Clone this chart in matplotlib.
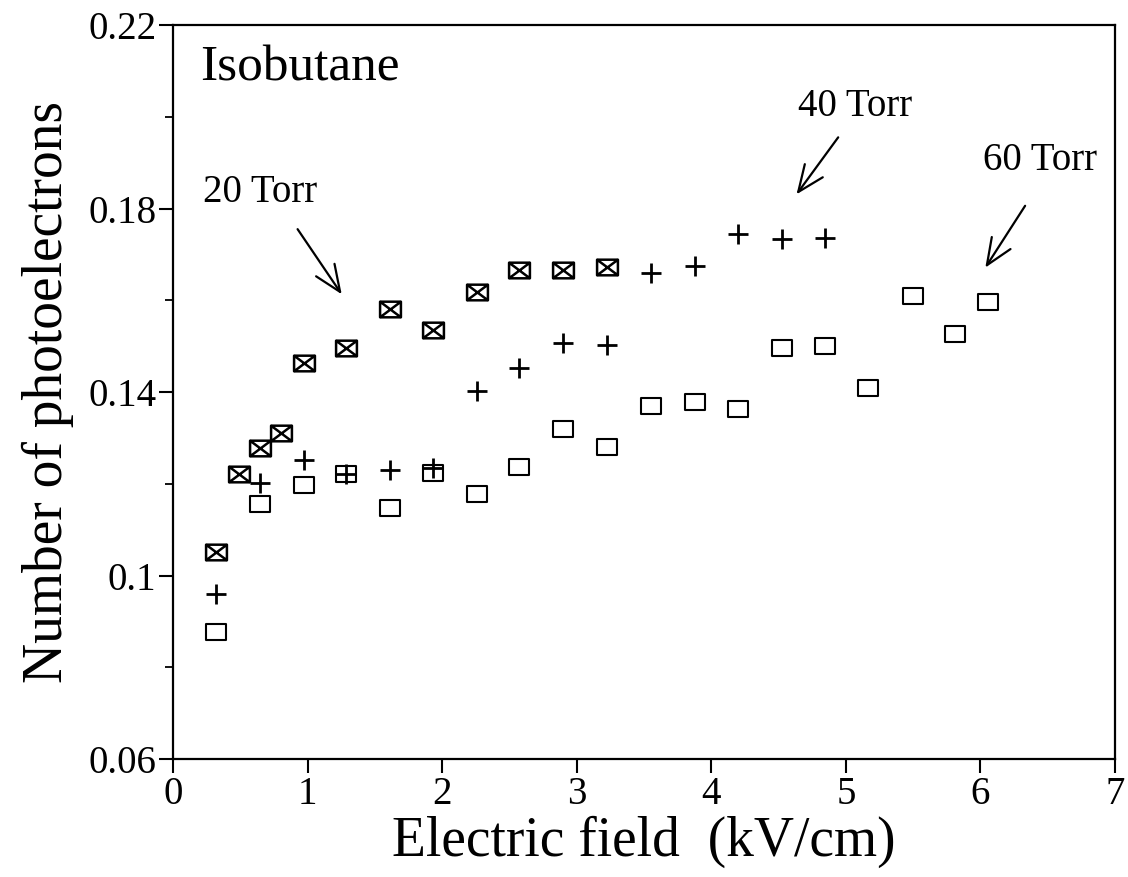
import numpy as np
import matplotlib
matplotlib.use("Agg")
import matplotlib.pyplot as plt
from matplotlib.path import Path
from matplotlib.ticker import MultipleLocator

plt.rcParams['font.family'] = ['Liberation Serif', 'DejaVu Serif']

# 20 Torr (crossed boxes)
x20 = [0.319, 0.49, 0.646, 0.80, 0.973, 1.283, 1.61, 1.93, 2.256, 2.57, 2.897, 3.228]
y20 = [0.1052, 0.1221, 0.1277, 0.1311, 0.1463, 0.1497, 0.1581, 0.1535, 0.1618, 0.1667, 0.1666, 0.1673]

# 40 Torr (plus)
x40 = [0.319, 0.646, 0.973, 1.283, 1.61, 1.93, 2.256, 2.57, 2.897, 3.228, 3.549, 3.878, 4.20, 4.527, 4.844]
y40 = [0.0959, 0.1201, 0.1252, 0.1221, 0.1230, 0.1234, 0.1403, 0.1452, 0.1506, 0.1502,
       0.1660, 0.1675, 0.1744, 0.1733, 0.1735]

# 60 Torr (open boxes)
x60 = [0.319, 0.646, 0.973, 1.283, 1.61, 1.93, 2.256, 2.57, 2.897, 3.228, 3.549, 3.878,
       4.20, 4.527, 4.844, 5.166, 5.50, 5.81, 6.057]
y60 = [0.0877, 0.1155, 0.1197, 0.1221, 0.1148, 0.1223, 0.1178, 0.1237, 0.1319, 0.1281,
       0.1370, 0.1379, 0.1364, 0.1495, 0.1501, 0.1408, 0.1609, 0.1526, 0.1596]

# marker shapes: flat rectangle, and rectangle with diagonals
box = Path([(-1, -0.75), (1, -0.75), (1, 0.75), (-1, 0.75), (-1, -0.75)],
           [Path.MOVETO, Path.LINETO, Path.LINETO, Path.LINETO, Path.CLOSEPOLY])
xbox = Path([(-1, -0.75), (1, -0.75), (1, 0.75), (-1, 0.75), (-1, -0.75),
             (-1, -0.75), (1, 0.75), (-1, 0.75), (1, -0.75)],
            [Path.MOVETO, Path.LINETO, Path.LINETO, Path.LINETO, Path.CLOSEPOLY,
             Path.MOVETO, Path.LINETO, Path.MOVETO, Path.LINETO])

fig = plt.figure(figsize=(11.28, 8.77), dpi=100)
ax = fig.add_axes([0.1534, 0.1345, 0.8351, 0.837])

ax.plot(x60, y60, linestyle='none', marker=box, markersize=15,
        markerfacecolor='none', markeredgecolor='black', markeredgewidth=1.5)
ax.plot(x20, y20, linestyle='none', marker=xbox, markersize=15,
        markerfacecolor='white', markeredgecolor='black', markeredgewidth=1.8)
ax.plot(x40, y40, linestyle='none', marker='+', markersize=14,
        markeredgecolor='black', markeredgewidth=2.0)

ax.set_xlim(0, 7)
ax.set_ylim(0.06, 0.22)
ax.set_xticks(range(0, 8))
ax.set_yticks([0.06, 0.1, 0.14, 0.18, 0.22])
ax.set_yticklabels(['0.06', '0.1', '0.14', '0.18', '0.22'])
ax.yaxis.set_minor_locator(MultipleLocator(0.02))
ax.tick_params(which='major', direction='out', length=10, width=1.5, labelsize=28, pad=2)
ax.tick_params(which='minor', direction='out', length=6, width=1.3)
for s in ax.spines.values():
    s.set_linewidth(1.6)

ax.set_xlabel('Electric field  (kV/cm)', fontsize=40, labelpad=2)
ax.set_ylabel('Number of photoelectrons', fontsize=40, labelpad=10)

ax.text(0.2, 0.2106, 'Isobutane', fontsize=37, ha='left', va='center')

arrow = dict(arrowstyle='->,head_length=1.9,head_width=0.8', color='black', lw=1.6)
ax.annotate('', xy=(1.265, 0.1608), xytext=(0.914, 0.176), arrowprops=arrow)
ax.text(0.646, 0.1835, '20 Torr', fontsize=28, ha='center', va='center')
ax.annotate('', xy=(4.621, 0.1826), xytext=(4.955, 0.196), arrowprops=arrow)
ax.text(5.067, 0.2022, '40 Torr', fontsize=28, ha='center', va='center')
ax.annotate('', xy=(6.025, 0.1666), xytext=(6.343, 0.1811), arrowprops=arrow)
ax.text(6.44, 0.1905, '60 Torr', fontsize=28, ha='center', va='center')

fig.savefig('out.png', dpi=100)
